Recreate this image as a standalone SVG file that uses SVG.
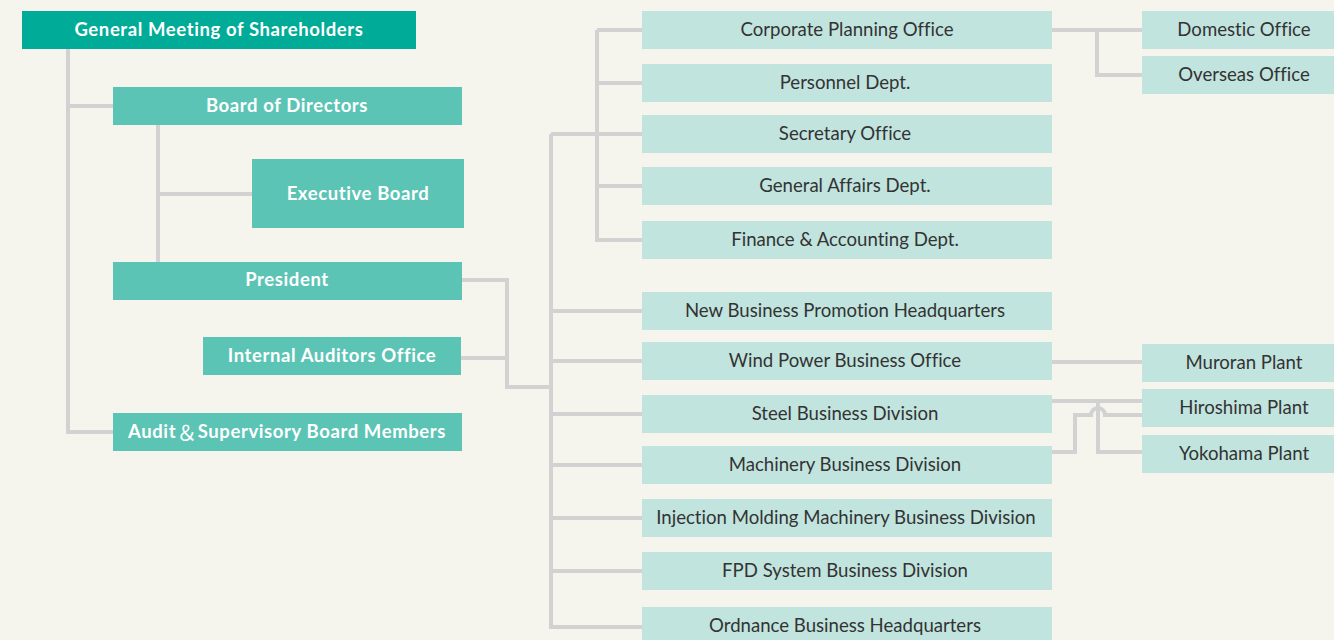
<svg xmlns="http://www.w3.org/2000/svg" width="1334" height="640" viewBox="0 0 1334 640">
<style>
.bg{fill:#f5f5ee}
.top{fill:#00ab97}
.mid{fill:#5cc4b5}
.lt{fill:#c1e4de}
text{font-variant-ligatures:no-common-ligatures}
.w{font-family:Lato,"Noto Sans",sans-serif;font-weight:bold;font-size:18.5px;letter-spacing:0.6px;fill:#fff;text-anchor:middle;dominant-baseline:central}
.d{font-family:Lato,"Noto Sans",sans-serif;font-size:18.6px;fill:#333;text-anchor:middle;dominant-baseline:central}
.c{fill:none;stroke:#d3d2d3;stroke-width:4}
</style>
<rect class="bg" width="1334" height="640"/>
<g id="connectors" class="c">
<path d="M68 49V432H113M68 106H113"/>
<path d="M158 125V262M158 194H252"/>
<path d="M462 280H507V387H551M461 358H507"/>
<path d="M551 134V627H642M551 311H642M551 361H642M551 414H642M551 465H642M551 518H642M551 571H642"/>
<path d="M551 134H642M597 30V240H642M597 30H642M597 83H642M597 186H642"/>
<path d="M1052 30H1142M1097 30V75H1142"/>
<path d="M1052 362H1142"/>
<path d="M1052 401H1142M1098 401V452H1142"/>
<path d="M1052 452H1075V415H1091A7 7 0 0 1 1105 415H1142"/>
</g>
<g id="n-gms"><rect class="top" x="22" y="11" width="394" height="38"/><text class="w" x="219" y="29">General Meeting of Shareholders</text></g>
<g id="n-bod"><rect class="mid" x="113" y="87" width="349" height="38"/><text class="w" x="287" y="105">Board of Directors</text></g>
<g id="n-exec"><rect class="mid" x="252" y="159" width="212" height="69"/><text class="w" x="358" y="193">Executive Board</text></g>
<g id="n-pres"><rect class="mid" x="113" y="262" width="349" height="38"/><text class="w" x="287" y="279">President</text></g>
<g id="n-iao"><rect class="mid" x="203" y="337" width="258" height="38"/><text class="w" x="332" y="355">Internal Auditors Office</text></g>
<g id="n-audit"><rect class="mid" x="113" y="413" width="349" height="38"/><text class="w" x="287" y="431">Audit<tspan font-weight="normal" font-size="21" font-family="'Noto Sans CJK JP',sans-serif">＆</tspan>Supervisory Board Members</text></g>
<g id="n-cpo"><rect class="lt" x="642" y="11" width="410" height="38"/><text class="d" x="847" y="29">Corporate Planning Office</text></g>
<g id="n-pers"><rect class="lt" x="642" y="64" width="410" height="38"/><text class="d" x="845" y="82">Personnel Dept.</text></g>
<g id="n-sec"><rect class="lt" x="642" y="115" width="410" height="38"/><text class="d" x="845" y="133">Secretary Office</text></g>
<g id="n-ga"><rect class="lt" x="642" y="167" width="410" height="38"/><text class="d" x="845" y="185">General Affairs Dept.</text></g>
<g id="n-fin"><rect class="lt" x="642" y="221" width="410" height="38"/><text class="d" x="845" y="239">Finance &amp; Accounting Dept.</text></g>
<g id="n-nbp"><rect class="lt" x="642" y="292" width="410" height="38"/><text class="d" x="845" y="310">New Business Promotion Headquarters</text></g>
<g id="n-wind"><rect class="lt" x="642" y="342" width="410" height="38"/><text class="d" x="845" y="360">Wind Power Business Office</text></g>
<g id="n-steel"><rect class="lt" x="642" y="395" width="410" height="38"/><text class="d" x="845" y="413">Steel Business Division</text></g>
<g id="n-mach"><rect class="lt" x="642" y="446" width="410" height="38"/><text class="d" x="845" y="464">Machinery Business Division</text></g>
<g id="n-inj"><rect class="lt" x="642" y="499" width="410" height="38"/><text class="d" x="846" y="517">Injection Molding Machinery Business Division</text></g>
<g id="n-fpd"><rect class="lt" x="642" y="552" width="410" height="38"/><text class="d" x="845" y="570">FPD System Business Division</text></g>
<g id="n-ord"><rect class="lt" x="642" y="607" width="410" height="38"/><text class="d" x="845" y="625">Ordnance Business Headquarters</text></g>
<g id="n-dom"><rect class="lt" x="1142" y="11" width="192" height="38"/><text class="d" x="1244" y="29">Domestic Office</text></g>
<g id="n-ovs"><rect class="lt" x="1142" y="56" width="192" height="38"/><text class="d" x="1244" y="74">Overseas Office</text></g>
<g id="n-mur"><rect class="lt" x="1142" y="344" width="192" height="38"/><text class="d" x="1244" y="362">Muroran Plant</text></g>
<g id="n-hir"><rect class="lt" x="1142" y="389" width="192" height="38"/><text class="d" x="1244" y="407">Hiroshima Plant</text></g>
<g id="n-yok"><rect class="lt" x="1142" y="435" width="192" height="38"/><text class="d" x="1244" y="453">Yokohama Plant</text></g>
</svg>
